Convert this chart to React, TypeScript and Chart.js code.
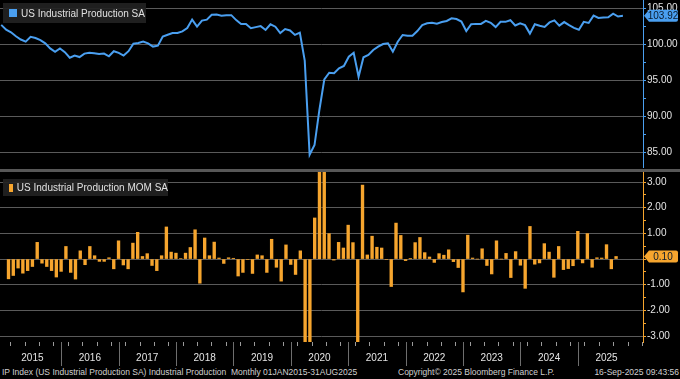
import React, { useEffect, useRef } from 'react';
import { Chart, registerables } from 'chart.js';

Chart.register(...registerables);

// US Industrial Production index (SA), Jan 2015 .. Aug 2025
const ipIndex: number[] = [
  102.66, 102.0, 101.64, 101.08, 100.63, 100.34, 101.0, 100.84, 100.55, 100.1, 99.4, 98.92,
  99.4, 98.88, 98.11, 98.42, 98.2, 98.68, 98.81, 98.72, 98.63, 98.68, 98.31, 99.01,
  98.78, 98.4, 99.01, 100.04, 100.14, 100.35, 100.1, 99.65, 99.78, 101.03, 101.3, 101.53,
  101.53, 101.76, 102.22, 103.39, 102.42, 103.26, 103.39, 104.07, 104.11, 103.93, 103.98, 104.01,
  103.32, 102.79, 102.77, 102.19, 102.35, 102.49, 101.96, 102.74, 102.41, 101.53, 102.09, 101.88,
  101.27, 101.59, 97.7, 84.65, 86.0, 90.9, 95.1, 96.03, 95.95, 96.64, 96.96, 98.25,
  98.8, 95.48, 98.17, 98.49, 99.18, 99.64, 100.0, 100.1, 98.94, 100.33, 101.26, 101.16,
  101.16, 101.81, 102.64, 102.88, 102.96, 102.83, 103.05, 103.2, 103.57, 103.47, 103.13, 101.81,
  102.76, 102.8, 102.8, 103.21, 102.95, 102.35, 103.08, 103.08, 103.31, 102.57, 102.87, 102.62,
  101.45, 102.74, 102.53, 102.38, 103.0, 103.28, 102.55, 103.05, 102.63, 102.25, 101.98, 103.08,
  102.93, 103.95, 103.62, 103.67, 103.71, 104.22, 103.82, 103.92,
];

// US Industrial Production MOM % (SA), Jan 2015 .. Aug 2025
const ipMom: number[] = [
  -0.77, -0.64, -0.35, -0.55, -0.45, -0.29, 0.65, -0.16, -0.29, -0.45, -0.7, -0.48,
  0.49, -0.52, -0.78, 0.32, -0.22, 0.49, 0.13, -0.09, -0.09, 0.05, -0.38, 0.71,
  -0.23, -0.38, 0.62, 1.04, 0.1, 0.21, -0.25, -0.45, 0.13, 1.25, 0.27, 0.23,
  0.02, 0.23, 0.45, 1.14, -0.94, 0.82, 0.13, 0.66, 0.04, -0.17, 0.05, 0.03,
  -0.66, -0.52, -0.02, -0.56, 0.16, 0.13, -0.52, 0.77, -0.32, -0.86, 0.55, -0.21,
  -0.6, 0.32, -3.83, -13.35, 1.6, 5.7, 4.62, 0.99, -0.04, 0.65, 0.43, 1.32,
  0.64, -3.35, 2.88, 0.16, 0.89, 0.46, 0.43, -0.02, -1.07, 1.4, 0.92, -0.06,
  0.01, 0.64, 0.84, 0.25, 0.08, -0.13, 0.21, 0.15, 0.36, -0.1, -0.33, -1.28,
  0.93, 0.04, 0.0, 0.4, -0.25, -0.58, 0.71, 0.0, 0.22, -0.72, 0.29, -0.24,
  -1.14, 1.27, -0.2, -0.15, 0.6, 0.27, -0.71, 0.49, -0.41, -0.37, -0.26, 1.08,
  -0.15, 0.99, -0.32, 0.05, 0.04, 0.56, -0.38, 0.1,
];

const years: string[] = ['2015', '2016', '2017', '2018', '2019', '2020', '2021', '2022', '2023', '2024', '2025'];
const indexTicks: number[] = [85, 90, 95, 100, 105];
const momTicks: number[] = [-3, -2, -1, 0, 1, 2, 3];

const FONT = '"Liberation Sans", Arial, sans-serif';
const BLUE = '#4a9ff0';
const ORANGE = '#f6a52e';
const GRID = '#5a5a5a';
const LABEL = '#e4e4e4';
const AXIS_W = 37;
const X_MIN = -0.25;
const X_MAX = 131.1;

const withMinor = (major: number[], step: number) => {
  const out: number[] = [];
  for (let k = 0; k < major.length; k++) {
    out.push(major[k]);
    if (k < major.length - 1) out.push(major[k] + step);
  }
  return out;
};

const valueBoxPlugin = {
  id: 'valueBox',
  afterDraw(chart: any, _args: any, opts: any) {
    const ys = chart.scales.y;
    const ctx = chart.ctx;
    const y = ys.getPixelForValue(opts.value);
    const x0 = chart.chartArea.right + 1;
    const h = 6;
    const w = 34;
    ctx.save();
    ctx.fillStyle = opts.color;
    ctx.beginPath();
    ctx.moveTo(x0, y);
    ctx.lineTo(x0 + 5, y - h);
    ctx.lineTo(x0 + w - 2, y - h);
    ctx.quadraticCurveTo(x0 + w, y - h, x0 + w, y - h + 2);
    ctx.lineTo(x0 + w, y + h - 2);
    ctx.quadraticCurveTo(x0 + w, y + h, x0 + w - 2, y + h);
    ctx.lineTo(x0 + 5, y + h);
    ctx.closePath();
    ctx.fill();
    ctx.fillStyle = '#0b1a2a';
    ctx.font = '10px ' + FONT;
    ctx.textAlign = 'center';
    ctx.textBaseline = 'middle';
    ctx.fillText(opts.text, x0 + 4 + (w - 4) / 2, y + 0.5);
    ctx.restore();
  },
};

const yearSepPlugin = {
  id: 'yearSep',
  afterDraw(chart: any) {
    const xs = chart.scales.x;
    const ctx = chart.ctx;
    const b = chart.chartArea.bottom;
    ctx.save();
    ctx.strokeStyle = '#6e6e6e';
    ctx.lineWidth = 1;
    for (let k = 0; k < years.length - 1; k++) {
      const px = Math.round(xs.getPixelForValue(11 + 12 * k)) + 0.5;
      ctx.beginPath();
      ctx.moveTo(px, b);
      ctx.lineTo(px, b + 24);
      ctx.stroke();
    }
    ctx.restore();
  },
};

export default function App() {
  const topRef = useRef<HTMLCanvasElement>(null);
  const botRef = useRef<HTMLCanvasElement>(null);

  useEffect(() => {
    document.body.style.margin = '0';
    document.body.style.background = '#000';
    Chart.defaults.font.family = FONT;

    const topTickVals = withMinor(indexTicks, 2.5);
    const botTickVals = withMinor(momTicks, 0.5);

    const top = new Chart(topRef.current!, {
      type: 'line',
      data: {
        datasets: [
          {
            label: 'US Industrial Production SA',
            data: ipIndex.map((v, i) => ({ x: i, y: v })),
            borderColor: BLUE,
            borderWidth: 2,
            pointRadius: 0,
            tension: 0,
            fill: false,
          },
        ],
      },
      options: {
        responsive: false,
        animation: false,
        layout: { padding: 0 },
        plugins: {
          legend: { display: false },
          tooltip: { enabled: false },
          valueBox: { value: ipIndex[ipIndex.length - 1], color: BLUE, text: ipIndex[ipIndex.length - 1].toFixed(2) },
        } as any,
        scales: {
          x: { type: 'linear', min: X_MIN, max: X_MAX, display: false },
          y: {
            position: 'right',
            min: 82.82,
            max: 106.11,
            afterBuildTicks: (s: any) => {
              s.ticks = topTickVals.map((v) => ({ value: v }));
            },
            afterFit: (s: any) => {
              s.width = AXIS_W;
              s.paddingTop = 0;
              s.paddingBottom = 0;
            },
            grid: {
              color: (c: any) => (c.tick && c.tick.value % 5 === 0 ? GRID : 'rgba(0,0,0,0)'),
              tickColor: BLUE,
              tickLength: 3,
              drawTicks: true,
            },
            border: { display: true, color: BLUE, width: 1 },
            ticks: {
              autoSkip: false,
              padding: 1,
              color: LABEL,
              font: { size: 10 },
              callback: (v: any) => (Number(v) % 5 === 0 ? Number(v).toFixed(2) : ''),
            },
          },
        },
      },
      plugins: [valueBoxPlugin],
    });

    const bot = new Chart(botRef.current!, {
      type: 'bar',
      data: {
        datasets: [
          {
            label: 'US Industrial Production MOM SA',
            data: ipMom.map((v, i) => ({ x: i, y: v })),
            backgroundColor: ORANGE,
            borderWidth: 0,
            barThickness: 2.7,
            clip: 0,
          } as any,
        ],
      },
      options: {
        responsive: false,
        animation: false,
        layout: { padding: 0 },
        plugins: {
          legend: { display: false },
          tooltip: { enabled: false },
          valueBox: { value: ipMom[ipMom.length - 1], color: ORANGE, text: ipMom[ipMom.length - 1].toFixed(2) },
        } as any,
        scales: {
          x: {
            type: 'linear',
            min: X_MIN,
            max: X_MAX,
            afterBuildTicks: (s: any) => {
              const t: any[] = [];
              for (let v = 2; v <= 131; v += 3) t.push({ value: v });
              s.ticks = t;
            },
            afterFit: (s: any) => {
              s.height = 24;
              s.paddingLeft = 0;
              s.paddingRight = 0;
            },
            grid: { drawOnChartArea: false, drawTicks: true, tickLength: 4, tickColor: '#9a9a9a' },
            border: { display: false },
            ticks: {
              autoSkip: false,
              maxRotation: 0,
              minRotation: 0,
              padding: 6,
              color: LABEL,
              font: { size: 10 },
              callback: (v: any) => {
                const n = Number(v);
                return (n - 5) % 12 === 0 ? years[(n - 5) / 12] : '';
              },
            },
          },
          y: {
            position: 'right',
            min: -3.23,
            max: 3.39,
            afterBuildTicks: (s: any) => {
              s.ticks = botTickVals.map((v) => ({ value: v }));
            },
            afterFit: (s: any) => {
              s.width = AXIS_W;
              s.paddingTop = 0;
              s.paddingBottom = 0;
            },
            grid: {
              color: (c: any) => (c.tick && Number.isInteger(c.tick.value) ? GRID : 'rgba(0,0,0,0)'),
              tickColor: ORANGE,
              tickLength: 3,
              drawTicks: true,
            },
            border: { display: true, color: ORANGE, width: 1 },
            ticks: {
              autoSkip: false,
              padding: 1,
              color: LABEL,
              font: { size: 10 },
              callback: (v: any) => {
                const n = Number(v);
                return Number.isInteger(n) && n !== 0 ? n.toFixed(2) : '';
              },
            },
          },
        },
      },
      plugins: [valueBoxPlugin, yearSepPlugin],
    });

    return () => {
      top.destroy();
      bot.destroy();
    };
  }, []);

  const legendBox = (top: number, w: number, h: number, color: string, text: string) => (
    <div
      style={{
        position: 'absolute',
        left: 3,
        top,
        width: w,
        height: h,
        background: 'rgba(34,34,34,0.92)',
        display: 'flex',
        alignItems: 'center',
        fontSize: 10,
        color: '#e0e0e0',
        whiteSpace: 'nowrap',
      }}
    >
      <span style={{ display: 'inline-block', width: 8, height: 8, background: color, marginLeft: 6, marginRight: 4 }} />
      <span>{text}</span>
    </div>
  );

  return (
    <div
      style={{
        position: 'fixed',
        left: 0,
        top: 0,
        width: 680,
        height: 379,
        background: '#000',
        overflow: 'hidden',
        fontFamily: FONT,
      }}
    >
      <canvas ref={topRef} width={680} height={168} style={{ position: 'absolute', left: 0, top: 0 }} />
      <div style={{ position: 'absolute', left: 0, top: 169, width: 680, height: 3, background: '#575757' }} />
      <canvas ref={botRef} width={680} height={194} style={{ position: 'absolute', left: 0, top: 172 }} />
      {legendBox(3, 143, 20, BLUE, 'US Industrial Production SA')}
      {legendBox(179, 165, 17, ORANGE, 'US Industrial Production MOM SA')}
      <div
        style={{
          position: 'absolute',
          left: 0,
          top: 366,
          width: 680,
          height: 13,
          fontSize: 8.5,
          lineHeight: '13px',
          color: '#d0d0d0',
          whiteSpace: 'nowrap',
        }}
      >
        <span style={{ position: 'absolute', left: 2 }}>
          IP Index (US Industrial Production SA) Industrial Production&nbsp; Monthly 01JAN2015-31AUG2025
        </span>
        <span style={{ position: 'absolute', left: 398 }}>Copyright© 2025 Bloomberg Finance L.P.</span>
        <span style={{ position: 'absolute', right: 1 }}>16-Sep-2025 09:43:56</span>
      </div>
    </div>
  );
}
